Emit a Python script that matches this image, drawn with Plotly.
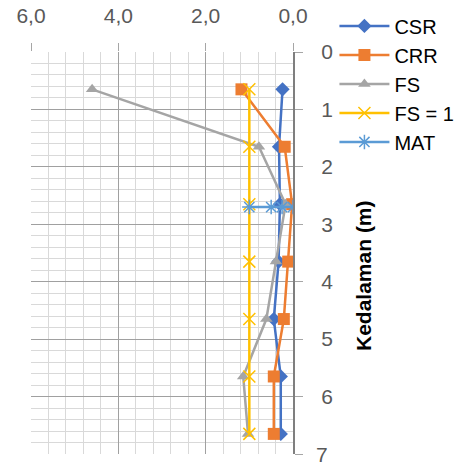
import plotly.graph_objects as go

depth = [0.65, 1.65, 2.65, 3.65, 4.65, 5.65, 6.65]
csr = [0.24, 0.32, 0.30, 0.33, 0.44, 0.28, 0.28]
crr = [1.18, 0.19, 0.02, 0.11, 0.21, 0.44, 0.44]
fs = [4.60, 0.78, 0.17, 0.39, 0.61, 1.14, 1.03]
fs1 = [1.0, 1.0, 1.0, 1.0, 1.0, 1.0, 1.0]
mat_x = [1.0, 0.5, 0.25, 0.0]
mat_y = [2.7, 2.7, 2.7, 2.7]

fig = go.Figure()
fig.add_trace(go.Scatter(x=csr, y=depth, name="CSR", mode="lines+markers",
                         line=dict(color="#4472C4", width=2.5),
                         marker=dict(symbol="diamond", size=11, color="#4472C4")))
fig.add_trace(go.Scatter(x=crr, y=depth, name="CRR", mode="lines+markers",
                         line=dict(color="#ED7D31", width=2.5),
                         marker=dict(symbol="square", size=12, color="#ED7D31")))
fig.add_trace(go.Scatter(x=fs, y=depth, name="FS", mode="lines+markers",
                         line=dict(color="#A5A5A5", width=2.5),
                         marker=dict(symbol="triangle-up", size=11, color="#A5A5A5")))
fig.add_trace(go.Scatter(x=fs1, y=depth, name="FS = 1", mode="lines+markers",
                         line=dict(color="#FFC000", width=2.5),
                         marker=dict(symbol="x-thin", size=12, line=dict(color="#FFC000", width=1.5))))
fig.add_trace(go.Scatter(x=mat_x, y=mat_y, name="MAT", mode="lines+markers",
                         line=dict(color="#5B9BD5", width=2.5),
                         marker=dict(symbol="asterisk", size=12, line=dict(color="#5B9BD5", width=1.5))))

fig.update_layout(
    width=455, height=462,
    margin=dict(l=31, r=162, t=52, b=8, autoexpand=False),
    paper_bgcolor="white", plot_bgcolor="white",
    separators=", ",
    font=dict(family="Liberation Sans", size=21, color="#595959"),
    legend=dict(xref="container", yref="container", x=0.735, y=0.986,
                xanchor="left", yanchor="top",
                font=dict(size=20, color="#000000"),
                tracegroupgap=0, itemwidth=50, bgcolor="rgba(0,0,0,0)"),
    showlegend=True,
)
fig.update_xaxes(side="top", range=[6, 0], dtick=2, tick0=0, tickformat=".1f",
                 ticks="outside", ticklen=8, tickcolor="#A6A6A6",
                 showgrid=True, gridcolor="#A0A0A0", gridwidth=1.4,
                 minor=dict(dtick=0.4, showgrid=True, gridcolor="#D9D9D9", gridwidth=1),
                 zeroline=False, showline=False, ticklabelstandoff=12,
                 tickfont=dict(size=21, color="#595959"))
fig.update_yaxes(side="right", range=[7, 0], dtick=1, tick0=0,
                 ticks="outside", ticklen=8, tickcolor="#A6A6A6",
                 showgrid=True, gridcolor="#A0A0A0", gridwidth=1.4,
                 minor=dict(dtick=0.2, showgrid=True, gridcolor="#D9D9D9", gridwidth=1),
                 zeroline=False, showline=True, linecolor="#7F7F7F", linewidth=2,
                 ticklabelstandoff=14,
                 tickfont=dict(size=21, color="#595959"))
fig.add_annotation(text="7", xref="paper", yref="y", x=(322 - 31) / 262, y=7,
                   showarrow=False, font=dict(size=21, color="#595959"),
                   xanchor="center", yanchor="middle")
fig.add_annotation(text="<b>Kedalaman (m)</b>", textangle=-90,
                   xref="paper", yref="paper", x=(363 - 31) / 262, y=1 - (275 - 52) / 402,
                   showarrow=False, font=dict(size=21, color="#000000"),
                   xanchor="center", yanchor="middle")

fig.write_html("out.html")
